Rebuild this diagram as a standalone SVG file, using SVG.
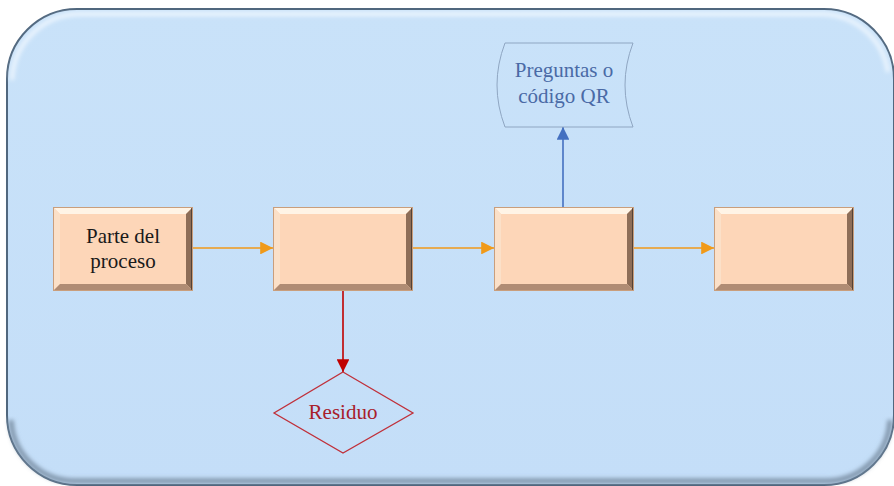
<svg xmlns="http://www.w3.org/2000/svg" width="894" height="486" viewBox="0 0 894 486">
  <defs>
    <style>
      .lbl { font-family: 'Liberation Serif', 'Times New Roman', Times, 'DejaVu Serif', 'Noto Serif', serif; font-size: 21px; text-anchor: middle; }
      .conn { fill: none; stroke-width: 1.6; }
      .face { fill: #FDD6B8; }
      .bev-top { fill: #FFF4E6; }
      .bev-left { fill: #FBE0C8; }
      .bev-right { fill: #8E6E58; }
      .bev-bottom { fill: #B08C74; }
      .edge { fill: none; stroke: #C99E7C; stroke-width: 1; }
    </style>
    <linearGradient id="frameShade" x1="0" y1="0" x2="0" y2="1">
      <stop offset="0" stop-color="#C9E2F9"/>
      <stop offset="1" stop-color="#C4DEF8"/>
    </linearGradient>
    <marker id="arrOrange" viewBox="0 0 10 10" refX="10" refY="5" markerWidth="8" markerHeight="8" markerUnits="strokeWidth" orient="auto">
      <path d="M0,0 L10,5 L0,10 z" fill="#F09A1A"/>
    </marker>
    <marker id="arrBlue" viewBox="0 0 10 10" refX="10" refY="5" markerWidth="8" markerHeight="8" markerUnits="strokeWidth" orient="auto">
      <path d="M0,0 L10,5 L0,10 z" fill="#4470C0"/>
    </marker>
    <marker id="arrRed" viewBox="0 0 10 10" refX="10" refY="5" markerWidth="8" markerHeight="8" markerUnits="strokeWidth" orient="auto">
      <path d="M0,0 L10,5 L0,10 z" fill="#C00000"/>
    </marker>
    <!-- bevelled process box, 140 x 84 -->
    <g id="bevelBox">
      <rect x="0" y="0" width="140" height="84" class="face"/>
      <polygon points="0,0 140,0 133,7 7,7" class="bev-top"/>
      <polygon points="0,0 7,7 7,77 0,84" class="bev-left"/>
      <polygon points="140,0 140,84 133,77 133,7" class="bev-right"/>
      <polygon points="0,84 140,84 133,77 7,77" class="bev-bottom"/>
      <line x1="139.2" y1="0" x2="139.2" y2="84" stroke="#2E2620" stroke-width="1.6"/>
      <rect x="0.5" y="0.5" width="139" height="83" class="edge"/>
    </g>
    <filter id="soft" x="-5%" y="-5%" width="110%" height="110%">
      <feGaussianBlur stdDeviation="2"/>
    </filter>
  </defs>

  <!-- background panel -->
  <g id="panel">
    <rect x="7" y="9" width="887" height="476" rx="70" ry="70" fill="url(#frameShade)" stroke="#50677E" stroke-width="2"/>
    <path d="M12,80 A68,68 0 0 1 80,14 L824,14 A68,68 0 0 1 888,72" fill="none" stroke="#EEF6FE" stroke-width="4" filter="url(#soft)"/>
    <path d="M890,420 A64,64 0 0 1 826,481 L74,481 A64,64 0 0 1 11,420" fill="none" stroke="#7E93A8" stroke-width="5" filter="url(#soft)"/>
  </g>

  <!-- connectors -->
  <g id="connectors">
    <line x1="193" y1="248" x2="273" y2="248" class="conn" stroke="#F09A1A" marker-end="url(#arrOrange)"/>
    <line x1="413" y1="248" x2="494" y2="248" class="conn" stroke="#F09A1A" marker-end="url(#arrOrange)"/>
    <line x1="633" y1="248" x2="714" y2="248" class="conn" stroke="#F09A1A" marker-end="url(#arrOrange)"/>
    <line x1="563" y1="207" x2="563" y2="127" class="conn" stroke="#4470C0" marker-end="url(#arrBlue)"/>
    <line x1="343" y1="291" x2="343" y2="372" class="conn" stroke="#C00000" marker-end="url(#arrRed)"/>
  </g>

  <!-- process steps -->
  <g id="step1">
    <use href="#bevelBox" x="53" y="207"/>
    <text class="lbl" x="123" y="243" fill="#1A1A1A">Parte del</text>
    <text class="lbl" x="123" y="268" fill="#1A1A1A">proceso</text>
  </g>
  <g id="step2">
    <use href="#bevelBox" x="273" y="207"/>
  </g>
  <g id="step3">
    <use href="#bevelBox" x="494" y="207"/>
  </g>
  <g id="step4">
    <use href="#bevelBox" x="714" y="207"/>
  </g>

  <!-- stored data output -->
  <g id="questions">
    <path d="M505,43 L633,43 Q617,85 633,127 L505,127 Q489,85 505,43 Z" fill="none" stroke="#8FA6C2" stroke-width="1"/>
    <text class="lbl" x="564" y="77" fill="#4A6AA6">Preguntas o</text>
    <text class="lbl" x="564" y="103" fill="#4A6AA6">código QR</text>
  </g>

  <!-- waste decision -->
  <g id="waste">
    <polygon points="343,372 413,413 343,453 274,413" fill="none" stroke="#C0303A" stroke-width="1.3"/>
    <text class="lbl" x="343" y="419" fill="#A8202A">Residuo</text>
  </g>
</svg>
